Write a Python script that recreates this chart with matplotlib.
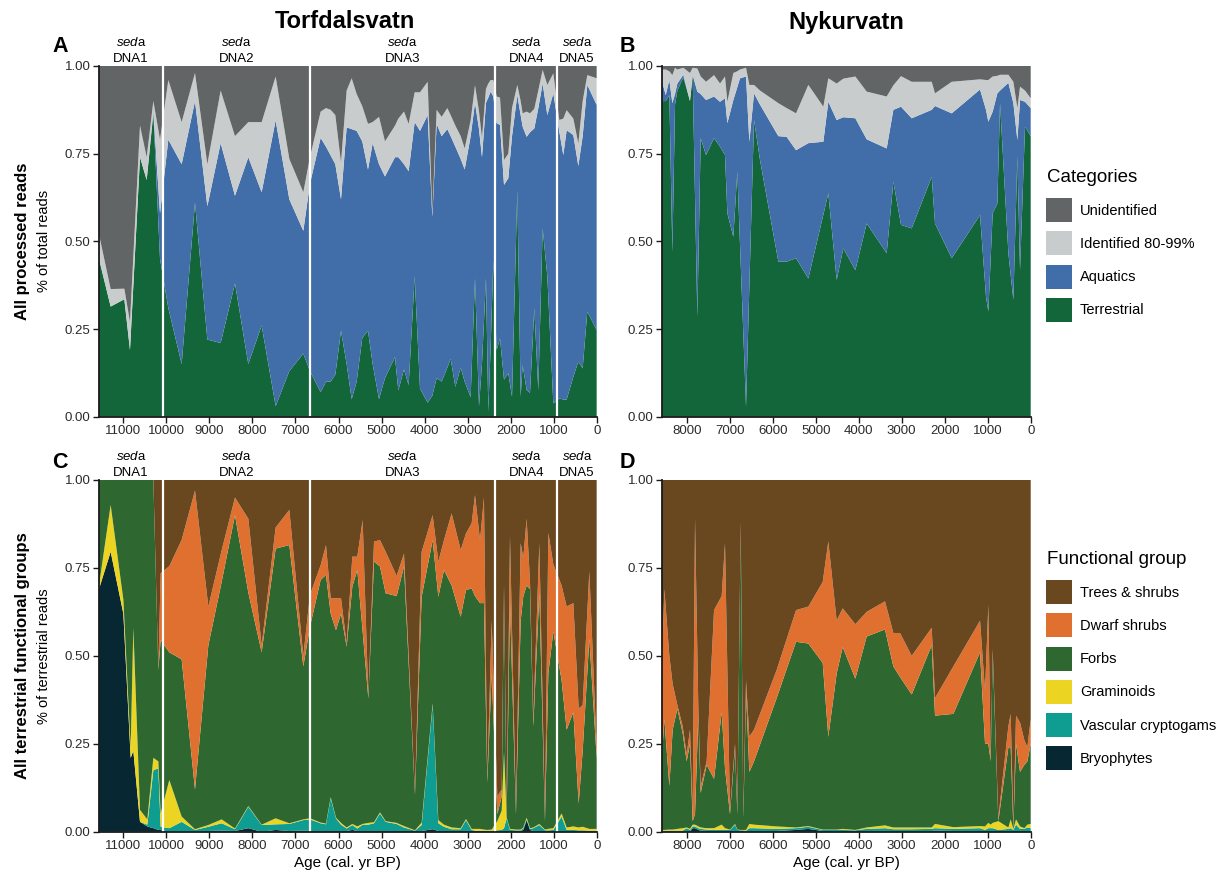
import matplotlib.pyplot as plt
import numpy as np
from matplotlib.patches import Patch
from matplotlib.transforms import blended_transform_factory

plt.rcParams['font.family'] = ['Liberation Sans', 'DejaVu Sans']
plt.rcParams['mathtext.fontset'] = 'custom'
plt.rcParams['mathtext.it'] = 'Liberation Sans:italic'
plt.rcParams['mathtext.rm'] = 'Liberation Sans'

# ---- Torfdalsvatn, all processed reads (panel A) ----
ages_a = [11566, 11295, 10977, 10846, 10613, 10458, 10303, 10148, 9955, 9645,
          9335, 9048, 8739, 8406, 8096, 7786, 7461, 7143, 6818, 6663,
          6415, 6291, 6182, 6074, 5942, 5811, 5694, 5578, 5447, 5315,
          5206, 5059, 4920, 4687, 4610, 4478, 4370, 4230, 4106, 3928,
          3820, 3719, 3603, 3471, 3394, 3285, 3161, 3068, 2929, 2828,
          2735, 2666, 2573, 2519, 2464, 2402, 2325, 2247, 2154, 2054,
          1968, 1845, 1767, 1721, 1628, 1550, 1450, 1357, 1256, 1147,
          1008, 869, 776, 698, 543, 427, 326, 218, 1]
terr_a = [0.45, 0.314, 0.335, 0.19, 0.74, 0.675, 0.865, 0.45, 0.31, 0.15,
          0.61, 0.22, 0.21, 0.38, 0.15, 0.26, 0.03, 0.13, 0.18, 0.13,
          0.07, 0.10, 0.10, 0.12, 0.245, 0.15, 0.05, 0.10, 0.225, 0.245,
          0.15, 0.05, 0.11, 0.17, 0.075, 0.135, 0.09, 0.40, 0.08, 0.04,
          0.06, 0.11, 0.10, 0.14, 0.165, 0.085, 0.14, 0.10, 0.055, 0.395,
          0.03, 0.15, 0.395, 0.015, 0.20, 0.445, 0.19, 0.223, 0.106, 0.124,
          0.057, 0.646, 0.057, 0.147, 0.076, 0.068, 0.309, 0.076, 0.537, 0.40,
          0.038, 0.052, 0.049, 0.049, 0.114, 0.157, 0.138, 0.30, 0.247]
aqua_a = [0.0, 0.0, 0.0, 0.0, 0.0, 0.0, 0.005, 0.13, 0.48, 0.57,
          0.29, 0.38, 0.57, 0.25, 0.59, 0.38, 0.815, 0.49, 0.35, 0.535,
          0.725, 0.67, 0.645, 0.60, 0.375, 0.675, 0.77, 0.715, 0.56, 0.46,
          0.63, 0.67, 0.575, 0.57, 0.665, 0.585, 0.61, 0.44, 0.735, 0.82,
          0.51, 0.725, 0.70, 0.68, 0.635, 0.685, 0.595, 0.605, 0.745, 0.50,
          0.79, 0.59, 0.50, 0.895, 0.727, 0.468, 0.647, 0.609, 0.555, 0.556,
          0.743, 0.271, 0.803, 0.68, 0.722, 0.743, 0.513, 0.804, 0.413, 0.46,
          0.884, 0.761, 0.697, 0.768, 0.689, 0.558, 0.662, 0.646, 0.642]
ident_a = [0.07, 0.05, 0.03, 0.08, 0.09, 0.065, 0.03, 0.21, 0.17, 0.12,
           0.08, 0.12, 0.15, 0.17, 0.10, 0.20, 0.125, 0.115, 0.11, 0.075,
           0.075, 0.11, 0.13, 0.14, 0.105, 0.105, 0.145, 0.105, 0.10, 0.13,
           0.06, 0.135, 0.10, 0.09, 0.11, 0.15, 0.135, 0.085, 0.11, 0.095,
           0.01, 0.04, 0.055, 0.06, 0.06, 0.06, 0.065, 0.06, 0.045, 0.05,
           0.05, 0.055, 0.04, 0.04, 0.033, 0.047, 0.076, 0.078, 0.071, 0.07,
           0.08, 0.029, 0.04, 0.038, 0.072, 0.054, 0.056, 0.05, 0.039, 0.086,
           0.057, 0.033, 0.104, 0.057, 0.047, 0.064, 0.10, 0.028, 0.076]

# ---- Nykurvatn, all processed reads (panel B) ----
ages_b = [8581, 8488, 8403, 8333, 8271, 8217, 8078, 7923, 7861, 7752,
          7674, 7550, 7364, 7225, 7109, 7054, 6915, 6822, 6760, 6620,
          6543, 6434, 6295, 5868, 5675, 5457, 5171, 4822, 4706, 4512,
          4357, 4078, 3814, 3349, 3194, 3016, 2767, 2302, 2225, 1837,
          1178, 1039, 985, 884, 775, 713, 519, 403, 310, 248,
          132, 0]
terr_b = [0.90, 0.90, 0.917, 0.47, 0.89, 0.93, 0.968, 0.90, 0.974, 0.285,
          0.794, 0.746, 0.794, 0.77, 0.746, 0.58, 0.513, 0.699, 0.49, 0.029,
          0.37, 0.846, 0.732, 0.442, 0.442, 0.452, 0.394, 0.576, 0.637, 0.39,
          0.48, 0.418, 0.551, 0.466, 0.67, 0.547, 0.537, 0.684, 0.551, 0.452,
          0.575, 0.342, 0.30, 0.58, 0.608, 0.894, 0.466, 0.333, 0.741, 0.418,
          0.827, 0.80]
aqua_b = [0.06, 0.017, 0.043, 0.424, 0.03, 0.02, 0.007, 0.0, 0.001, 0.642,
          0.126, 0.157, 0.119, 0.128, 0.162, 0.257, 0.39, 0.241, 0.475, 0.941,
          0.414, 0.076, 0.158, 0.358, 0.356, 0.308, 0.386, 0.208, 0.261, 0.456,
          0.374, 0.433, 0.24, 0.299, 0.205, 0.337, 0.314, 0.191, 0.335, 0.413,
          0.358, 0.533, 0.541, 0.29, 0.314, 0.036, 0.486, 0.561, 0.048, 0.485,
          0.071, 0.08]
ident_b = [0.03, 0.073, 0.025, 0.08, 0.075, 0.04, 0.02, 0.08, 0.02, 0.066,
           0.05, 0.052, 0.061, 0.052, 0.062, 0.061, 0.077, 0.045, 0.025, 0.025,
           0.162, 0.024, 0.04, 0.094, 0.082, 0.105, 0.166, 0.10, 0.067, 0.104,
           0.11, 0.119, 0.136, 0.148, 0.07, 0.087, 0.104, 0.08, 0.036, 0.09,
           0.029, 0.085, 0.119, 0.10, 0.05, 0.045, 0.023, 0.061, 0.091, 0.038,
           0.032, 0.028]

# ---- Torfdalsvatn, terrestrial functional groups (panel C) ----
ages_c = [11566, 11295, 11000, 10830, 10768, 10613, 10443, 10303, 10187, 10133,
          9932, 9645, 9335, 9025, 8716, 8406, 8096, 7786, 7461, 7143,
          6818, 6663, 6415, 6291, 6182, 6059, 5942, 5811, 5679, 5563,
          5439, 5307, 5175, 5036, 4904, 4649, 4478, 4223, 4068, 3812,
          3680, 3549, 3371, 3161, 3038, 2906, 2828, 2712, 2620, 2542,
          2441, 2309, 2208, 2154, 2092, 2015, 1876, 1767, 1705, 1628,
          1550, 1473, 1333, 1202, 1124, 1008, 815, 698, 543, 419,
          326, 171, 1]
bryo_c = [.69, .796, .62, .21, .23, .028, .015, .01, .005, .005,
          0, 0, 0, .002, .003, .002, .01, 0, .005, .002,
          .003, .002, .002, .002, .002, .002, .002, .002, .005, .002,
          .002, .002, .002, .002, .002, .002, .002, .002, .002, .007,
          .002, .002, .002, .002, .002, .002, .002, .002, .002, .002,
          .002, .002, .002, .002, .002, .002, .002, .002, .005, .033,
          .005, .002, .002, .002, .002, .002, .002, .002, .002, .002,
          .002, .002, .002]
vasc_c = [0, 0, 0, 0, 0, 0, .005, .165, .175, .009,
          .01, .028, .005, .012, .021, .005, .061, .019, .016, .02,
          .03, .033, .022, .019, .093, .036, .018, .007, .014, .007,
          .018, .018, .022, .05, .026, .02, .01, .001, .017, .353,
          .022, .012, .005, .005, .031, .003, .001, .001, .001, .001,
          .001, .002, .003, .008, .036, .003, .002, .002, .005, .002,
          .003, .008, .017, .002, .002, .003, .041, .003, .003, .002,
          .002, .001, .001]
gram_c = [.01, .133, .04, .03, .35, .034, .015, .035, .02, .038,
          .137, .015, .002, .005, .011, .002, .002, .001, .017, .002,
          .002, .003, .002, .002, .003, .002, .005, .003, .003, .006,
          .002, .005, .003, .003, .002, .003, .004, .001, .007, .005,
          .009, .006, .005, .003, .003, .003, .005, .005, .003, .002,
          .003, .026, .055, .217, .002, .003, .002, .002, .002, .005,
          .002, .002, .003, .002, .004, .005, .009, .007, .01, .008,
          .01, .005, .005]
forb_c = [.30, .071, .34, .76, .42, .938, .965, .79, .26, .493,
          .363, .447, .113, .511, .675, .891, .607, .49, .767, .791,
          .435, .545, .69, .707, .522, .533, .595, .514, .675, .729,
          .548, .354, .741, .699, .648, .645, .738, .101, .642, .464,
          .635, .724, .688, .601, .651, .684, .662, .642, .644, .135,
          .444, .02, .04, .463, .01, .642, .044, .594, .658, .66,
          .68, .288, .658, .024, .442, .56, .378, .278, .325, .068,
          .216, .542, .202]
dwarf_c = [0, 0, 0, 0, 0, 0, 0, 0, 0, .19,
           .245, .34, .85, .11, .09, .05, .21, .02, .06, .10,
           .03, .09, .042, .085, .044, .091, .044, .009, .085, .038,
           .316, .005, .057, .075, .118, .057, .037, .004, .128, .071,
           .10, .085, .205, .19, .161, .185, .287, .179, .30, .01,
           .15, .05, .02, .01, .01, .19, .01, .22, .11, .19,
           .02, .02, .14, .01, .40, .19, .27, .35, .31, .27,
           .13, .19, .03]

# ---- Nykurvatn, terrestrial functional groups (panel D) ----
ages_d = [8581, 8519, 8403, 8326, 8217, 8093, 8000, 7923, 7861, 7806,
          7729, 7674, 7535, 7364, 7186, 7109, 6993, 6876, 6822, 6744,
          6682, 6620, 6543, 6434, 5907, 5457, 5171, 4837, 4706, 4512,
          4372, 4078, 3814, 3388, 3194, 3039, 2767, 2302, 2225, 1798,
          1178, 1062, 985, 930, 884, 752, 519, 465, 403, 341,
          248, 147, 78, 0]
bryo_d = [0, 0, 0, 0, 0, 0, 0, 0, .01, .01,
          .005, .003, .002, .002, .002, .002, .002, .002, .002, .002,
          .002, 0, .002, .002, .002, .005, .008, .002, .002, .002,
          .002, .002, .002, .002, .002, .002, .002, .002, .003, .002,
          .002, .002, .002, .002, .002, .002, .002, .002, .002, .002,
          .002, .002, .002, .002]
vasc_d = [.003, .003, .003, .003, .003, .003, .01, .005, .005, .005,
          .005, .005, .004, .003, .004, .003, .003, .018, .003, .002,
          .002, .003, .008, .008, .006, .005, .006, .003, .003, .003,
          .003, .002, .006, .008, .005, .005, .005, .006, .007, .006,
          .008, .003, .008, .008, .008, .003, .006, .008, .003, .018,
          .006, .006, .01, .008]
gram_d = [.002, .002, .003, .003, .005, .007, .002, .003, .005, .005,
          .005, .004, .004, .005, .014, .005, .001, .002, .001, .001,
          .001, .002, .012, .01, .007, .002, .002, .001, .001, .001,
          .003, .001, .004, .008, .005, .005, .005, .004, .012, .005,
          .006, .01, .015, .01, .015, .025, .004, .025, .003, .015,
          .007, .002, .008, .012]
forb_d = [.195, .315, .124, .284, .342, .27, .188, .242, .01, .03,
          .315, .098, .18, .14, .32, .17, .044, .218, .044, .865,
          .035, .395, .148, .18, .365, .528, .519, .474, .264, .444,
          .517, .43, .543, .557, .458, .428, .378, .518, .308, .322,
          .494, .235, .225, .18, .485, 0, .228, .205, .002, .215,
          .155, .18, .18, .228]
dwarf_d = [.25, .37, .37, .13, .01, .02, .02, .04, .03, .84,
           .02, .02, .01, .48, .33, .64, .01, .01, .01, .01,
           .01, .03, .10, .09, .08, .09, .105, .23, .555, .15,
           .11, .155, .07, .08, .095, .125, .11, .05, .05, .135,
           .09, .15, .395, 0, .01, .01, .06, .095, .01, .08,
           .14, .07, .04, .07]

# sedaDNA unit boundaries (cal. yr BP) and label positions, Torfdalsvatn
unit_bounds = [10072, 6674, 2363, 916]
unit_names = ['DNA1', 'DNA2', 'DNA3', 'DNA4', 'DNA5']
unit_mid = [10819, 8373, 4518, 1640, 458]

cat_names = ['Unidentified', 'Identified 80-99%', 'Aquatics', 'Terrestrial']
cat_colors = ['#626566', '#c9cccd', '#416ea8', '#13663a']
fg_names = ['Trees & shrubs', 'Dwarf shrubs', 'Forbs', 'Graminoids',
            'Vascular cryptogams', 'Bryophytes']
fg_colors = ['#69481f', '#e0702f', '#2e6830', '#ecd522', '#0f9d92', '#072833']

fig = plt.figure(figsize=(12.24, 8.77), dpi=100)
W, H = 1224, 877


def add_ax(x0, x1, y0, y1):
    return fig.add_axes([x0 / W, 1 - y1 / H, (x1 - x0) / W, (y1 - y0) / H])


ax_a = add_ax(99, 596.7, 66, 416.7)
ax_b = add_ax(661.7, 1030.7, 66, 416.7)
ax_c = add_ax(99, 596.7, 480, 831.7)
ax_d = add_ax(661.7, 1030.7, 480, 831.7)


def style(ax, xmax):
    ax.set_xlim(xmax, 0)
    ax.set_ylim(0, 1)
    ax.set_xticks(np.arange(0, xmax, 1000))
    ax.set_yticks([0, 0.25, 0.5, 0.75, 1.0])
    ax.set_yticklabels(['0.00', '0.25', '0.50', '0.75', '1.00'])
    for s in ['top', 'right']:
        ax.spines[s].set_visible(False)
    for s in ['left', 'bottom']:
        ax.spines[s].set_linewidth(1.3)
        ax.spines[s].set_color('#1a1a1a')
    ax.tick_params(labelsize=9.5, length=4, width=1, color='#1a1a1a',
                   labelcolor='#2a2a2a', pad=2)


def stack_reads(ax, ages, terr, aqua, ident):
    terr, aqua, ident = map(np.array, (terr, aqua, ident))
    unid = 1 - terr - aqua - ident
    ax.stackplot(ages, terr, aqua, ident, unid,
                 colors=cat_colors[::-1], linewidth=0)


def stack_groups(ax, ages, bryo, vasc, gram, forb, dwarf):
    bryo, vasc, gram, forb, dwarf = map(np.array, (bryo, vasc, gram, forb, dwarf))
    trees = 1 - bryo - vasc - gram - forb - dwarf
    ax.stackplot(ages, bryo, vasc, gram, forb, dwarf, trees,
                 colors=fg_colors[::-1], linewidth=0)


stack_reads(ax_a, ages_a, terr_a, aqua_a, ident_a)
stack_reads(ax_b, ages_b, terr_b, aqua_b, ident_b)
stack_groups(ax_c, ages_c, bryo_c, vasc_c, gram_c, forb_c, dwarf_c)
stack_groups(ax_d, ages_d, bryo_d, vasc_d, gram_d, forb_d, dwarf_d)

style(ax_a, 11566)
style(ax_c, 11566)
style(ax_b, 8581)
style(ax_d, 8581)

for ax in (ax_a, ax_c):
    for b in unit_bounds:
        ax.axvline(b, color='white', lw=1.6)
    tr = blended_transform_factory(ax.transData, ax.transAxes)
    for name, mid in zip(unit_names, unit_mid):
        ax.text(mid, 1.068, r'$\mathit{sed}$a', transform=tr, ha='center',
                va='center', fontsize=9.5)
        ax.text(mid, 1.02, name, transform=tr, ha='center', va='center',
                fontsize=9.5)

for ax in (ax_c, ax_d):
    ax.set_xlabel('Age (cal. yr BP)', fontsize=11, labelpad=3)

# titles, panel letters, row labels
fig.text(345 / W, 1 - 22 / H, 'Torfdalsvatn', ha='center', va='center',
         fontsize=17, fontweight='bold')
fig.text(846 / W, 1 - 22 / H, 'Nykurvatn', ha='center', va='center',
         fontsize=17, fontweight='bold')
for letter, x, y in [('A', 60, 46), ('B', 627, 46), ('C', 60, 462), ('D', 627, 462)]:
    fig.text(x / W, 1 - y / H, letter, ha='center', va='center',
             fontsize=15.5, fontweight='bold')

fig.text(23 / W, 1 - 241 / H, 'All processed reads', rotation=90,
         ha='center', va='center', fontsize=12, fontweight='bold')
fig.text(44 / W, 1 - 241 / H, '% of total reads', rotation=90,
         ha='center', va='center', fontsize=10.5)
fig.text(23 / W, 1 - 656 / H, 'All terrestrial functional groups', rotation=90,
         ha='center', va='center', fontsize=12, fontweight='bold')
fig.text(44 / W, 1 - 656 / H, '% of terrestrial reads', rotation=90,
         ha='center', va='center', fontsize=10.5)

# legends (titles placed as separate text)
leg_kw = dict(loc='upper left', frameon=False, fontsize=10.5,
              handlelength=1.78, handleheight=2.15, labelspacing=0.64,
              handletextpad=0.55, borderaxespad=0, borderpad=0)
fig.text(1047 / W, 1 - 178 / H, 'Categories', ha='left', va='center', fontsize=13.5)
fig.legend(handles=[Patch(facecolor=c, edgecolor='none', label=n)
                    for n, c in zip(cat_names, cat_colors)],
           bbox_to_anchor=(1046 / W, 1 - 198 / H), **leg_kw)
fig.text(1047 / W, 1 - 560 / H, 'Functional group', ha='left', va='center',
         fontsize=13.5)
fig.legend(handles=[Patch(facecolor=c, edgecolor='none', label=n)
                    for n, c in zip(fg_names, fg_colors)],
           bbox_to_anchor=(1046 / W, 1 - 580 / H), **leg_kw)

fig.savefig('out.png', dpi=100)
